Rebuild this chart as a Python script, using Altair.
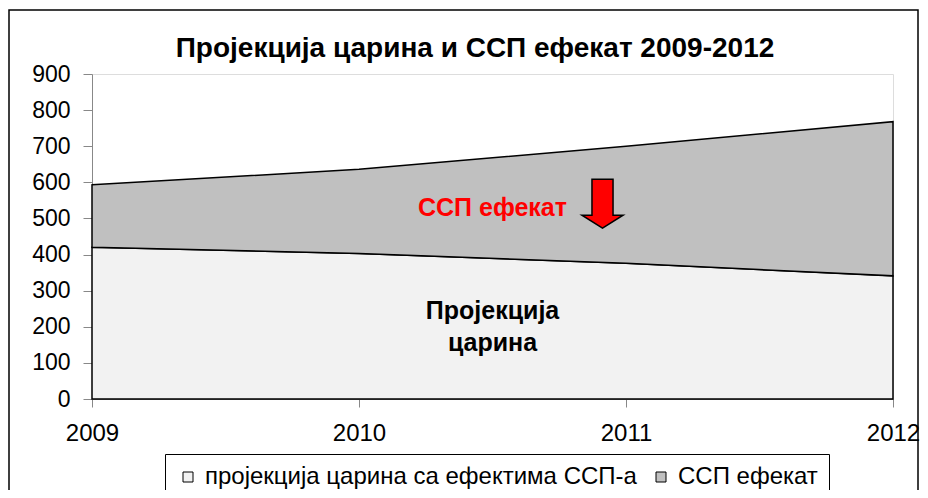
import altair as alt
import pandas as pd

years = [2009, 2010, 2011, 2012]
tariffs = [420, 403, 376, 341]          # пројекција царина са ефектима ССП-а
ssp_effect = [173, 233, 324, 427]       # ССП ефекат
series_names = ["пројекција царина са ефектима ССП-а", "ССП ефекат"]
series_colors = ["#F2F2F2", "#C0C0C0"]
y_ticks = [0, 100, 200, 300, 400, 500, 600, 700, 800, 900]

title_text = "Пројекција царина и ССП ефекат 2009-2012"
red_label = "ССП ефекат"
inner_label = ["Пројекција", "царина"]

FONT = "Liberation Sans"

rows = []
for i, y in enumerate(years):
    rows.append({"year": y, "series": series_names[0], "value": tariffs[i], "ord": 0})
    rows.append({"year": y, "series": series_names[1], "value": ssp_effect[i], "ord": 1})
df = pd.DataFrame(rows)

xscale = alt.Scale(domain=[2009, 2012], nice=False, zero=False)
yscale = alt.Scale(domain=[0, 900], nice=False)

x_axis = alt.Axis(values=years, format="d", title=None, labelFontSize=24,
                  labelPadding=14, tickSize=8, grid=False,
                  labelFlush=False, labelOverlap=False)
y_axis = alt.Axis(values=y_ticks, title=None, labelFontSize=23,
                  labelPadding=13, tickSize=9, grid=False,
                  labelFlush=False, labelOverlap=False)

area = alt.Chart(df).mark_area(stroke="black", strokeWidth=1.5, opacity=1).encode(
    x=alt.X("year:Q", scale=xscale, axis=x_axis),
    y=alt.Y("value:Q", stack="zero", scale=yscale, axis=y_axis),
    fill=alt.Fill("series:N",
                  scale=alt.Scale(domain=series_names, range=series_colors),
                  legend=alt.Legend(orient="none", legendX=73, legendY=380,
                                    direction="horizontal", title=None,
                                    strokeColor="black", fillColor="white",
                                    padding=11, labelFontSize=24, labelFont=FONT,
                                    labelLimit=700, symbolType="square",
                                    symbolSize=100, symbolStrokeColor="black",
                                    symbolStrokeWidth=1, columnPadding=12,
                                    labelOffset=5)),
    order=alt.Order("ord:Q"),
)

ann = pd.DataFrame({"x": [2010.5], "y": [529], "t": [red_label]})
red_text = alt.Chart(ann).mark_text(
    color="#FF0000", fontSize=25, fontWeight="bold", font=FONT, baseline="middle"
).encode(x=alt.X("x:Q", scale=xscale, axis=x_axis),
         y=alt.Y("y:Q", scale=yscale, axis=y_axis), text="t:N")

inner = pd.DataFrame({"x": [2010.5, 2010.5], "y": [244, 156], "t": inner_label})
inner_text = alt.Chart(inner).mark_text(
    color="black", fontSize=25, fontWeight="bold", font=FONT, baseline="middle"
).encode(x=alt.X("x:Q", scale=xscale, axis=x_axis),
         y=alt.Y("y:Q", scale=yscale, axis=y_axis), text="t:N")

arrow_df = pd.DataFrame({"x": [2010.912], "y": [541]})
arrow = alt.Chart(arrow_df).mark_point(
    shape="M-0.43,-1 L0.43,-1 L0.43,0.47 L0.84,0.47 L0,1 L-0.84,0.47 L-0.43,0.47 Z",
    size=2401, filled=True, fill="#FF0000", stroke="black", strokeWidth=1.5, opacity=1
).encode(x=alt.X("x:Q", scale=xscale, axis=x_axis),
         y=alt.Y("y:Q", scale=yscale, axis=y_axis))

frame = alt.Chart(pd.DataFrame({"a": [0]})).mark_rect(
    fill="white", fillOpacity=0, stroke="black", strokeWidth=1.5
).encode(x=alt.value(-83), x2=alt.value(826), y=alt.value(-64), y2=alt.value(520))

title = alt.Chart(pd.DataFrame({"t": [title_text]})).mark_text(
    fontSize=28, fontWeight="bold", font=FONT, color="black",
    align="center", baseline="alphabetic"
).encode(x=alt.value(383), y=alt.value(-17), text="t:N")

chart = alt.layer(frame, area, red_text, inner_text, arrow, title).properties(
    width=801, height=325,
    autosize=alt.AutoSizeParams(type="none"),
    padding={"left": 84, "top": 66, "right": 27, "bottom": 91},
).configure_view(
    stroke="#808080", strokeWidth=2
).configure_axis(
    labelFont=FONT, labelColor="black", domainColor="black", tickColor="black",
    domainWidth=1.5, tickWidth=1.5
).configure(background="white")

chart.save("out.html", embed_options={"renderer": "svg", "actions": False})
